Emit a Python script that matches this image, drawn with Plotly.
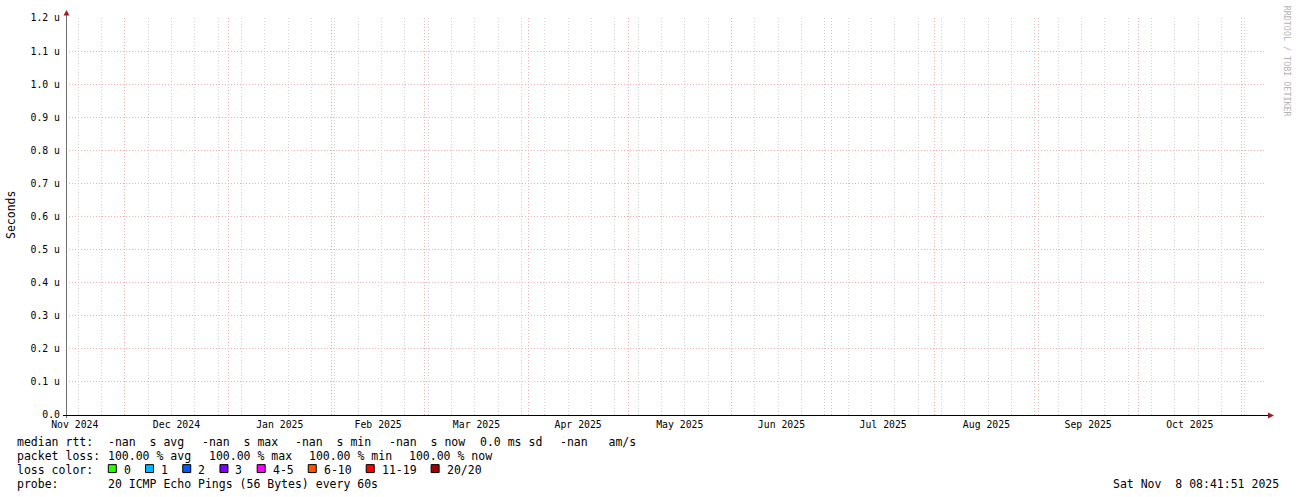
import plotly.graph_objects as go
from datetime import datetime, timedelta

# ---------------- data ----------------
end_time = datetime(2025, 11, 8, 8, 41, 51)
start_time = end_time - timedelta(days=360)

# no samples were collected in the period (all NaN)
rtt_times = []
median_rtt = []

y_tick_vals = [0.0, 0.1, 0.2, 0.3, 0.4, 0.5, 0.6, 0.7, 0.8, 0.9, 1.0, 1.1, 1.2]
y_tick_text = ["0.0", "0.1 u", "0.2 u", "0.3 u", "0.4 u", "0.5 u", "0.6 u",
               "0.7 u", "0.8 u", "0.9 u", "1.0 u", "1.1 u", "1.2 u"]

rtt_stat_values = ["-nan", "-nan", "-nan", "-nan"]
rtt_stat_names = ["avg", "max", "min", "now"]
rtt_sd = "0.0"
rtt_am = "-nan"

loss_values = [100.00, 100.00, 100.00, 100.00]
loss_names = ["avg", "max", "min", "now"]

loss_labels = ["0", "1", "2", "3", "4-5", "6-10", "11-19", "20/20"]
loss_colors = ["#26ff00", "#00b8ff", "#0059ff", "#7e00ff", "#ff00ff",
               "#ff5500", "#ff0000", "#a10000"]

probe_text = "20 ICMP Echo Pings (56 Bytes) every 60s"
stamp_text = "Sat Nov  8 08:41:51 2025"

# ---------------- layout helpers ----------------
W, H = 1297, 497
PL, PR, PT, PB = 66, 1266, 15, 415
MONO = "DejaVu Sans Mono"
LEG = 11.5
CW = 6.92


def px(x):
    return (x - PL) / (PR - PL)


def py(y):
    return (PB - y) / (PB - PT)


def ann(text, x, y, size=LEG, color="#000000", xanchor="left", angle=0):
    return dict(text=text.replace(" ", "\u00a0"), x=px(x), y=py(y),
                xref="paper", yref="paper", xanchor=xanchor, yanchor="middle",
                showarrow=False, textangle=angle, borderpad=0,
                font=dict(family=MONO, size=size, color=color))


fig = go.Figure()
fig.add_trace(go.Scatter(x=rtt_times, y=median_rtt, mode="lines",
                         line=dict(color="#00aa00"), showlegend=False))

RED_GRID = "#eeb0b0"
GRAY_GRID = "#d0d0d0"

fig.update_layout(
    width=W, height=H,
    margin=dict(l=PL, r=W - PR, t=PT, b=H - PB, pad=0),
    paper_bgcolor="white", plot_bgcolor="white",
    showlegend=False,
    xaxis=dict(
        type="date", range=[start_time, end_time],
        dtick="M1", tick0="2024-12-01", tickformat="%b %Y",
        ticklabelmode="period",
        showgrid=True, gridcolor=RED_GRID, griddash="1px,2px", gridwidth=1,
        minor=dict(dtick=7 * 86400000, tick0="2024-11-03", showgrid=True,
                   gridcolor=GRAY_GRID, griddash="1px,2px", gridwidth=1),
        showline=False, zeroline=False, ticks="",
        tickfont=dict(family=MONO, size=9.8, color="#000000"),
        ticklabelstandoff=2,
    ),
    yaxis=dict(
        range=[0, 1.2], tickvals=y_tick_vals, ticktext=y_tick_text,
        showgrid=True, gridcolor=RED_GRID, griddash="1px,2px", gridwidth=1,
        showline=False, zeroline=False, ticks="",
        tickfont=dict(family=MONO, size=9.8, color="#000000"),
        ticklabelstandoff=5,
    ),
)

shapes = []
# axes
shapes.append(dict(type="line", xref="paper", yref="paper",
                   x0=px(66.5), x1=px(66.5), y0=py(418), y1=py(11),
                   line=dict(color="#6e6e6e", width=1)))
shapes.append(dict(type="line", xref="paper", yref="paper",
                   x0=px(63), x1=px(1269), y0=py(415.5), y1=py(415.5),
                   line=dict(color="#000000", width=1)))
# arrows
shapes.append(dict(type="path", xref="paper", yref="paper",
                   path=f"M {px(63.5)},{py(12.5)} L {px(69.5)},{py(12.5)} L {px(66.5)},{py(7)} Z",
                   fillcolor="#9b1c1c", line=dict(color="#9b1c1c", width=0)))
shapes.append(dict(type="path", xref="paper", yref="paper",
                   path=f"M {px(1268)},{py(412.5)} L {px(1268)},{py(418.5)} L {px(1274)},{py(415.5)} Z",
                   fillcolor="#9b1c1c", line=dict(color="#9b1c1c", width=0)))

annotations = []
# y axis title
annotations.append(ann("Seconds", 10.5, 214, xanchor="center", angle=-90))
# watermark
annotations.append(ann("RRDTOOL / TOBI OETIKER", 1287, 59, size=8.4,
                       color="#b4b4b4", xanchor="center", angle=90))

# line 1: median rtt
y1 = 442.5
annotations.append(ann("median rtt:", 16, y1))
rtt_x = [107.3, 201.3, 294.3, 387.7]
for v, n, x in zip(rtt_stat_values, rtt_stat_names, rtt_x):
    annotations.append(ann(f"{v}  s {n}", x, y1))
annotations.append(ann(f"{rtt_sd} ms sd", 479, y1))
annotations.append(ann(f"{rtt_am}   am/s", 559, y1))

# line 2: packet loss
y2 = 456.5
annotations.append(ann("packet loss:", 16, y2))
loss_x = [107.3, 207.6, 307.9, 408.2]
for v, n, x in zip(loss_values, loss_names, loss_x):
    annotations.append(ann(f"{v:.2f} % {n}", x, y2))

# line 3: loss colours
y3 = 470.5
annotations.append(ann("loss color:", 16, y3))
bx = 108.3
for lab, col in zip(loss_labels, loss_colors):
    shapes.append(dict(type="rect", xref="paper", yref="paper",
                       x0=px(bx), x1=px(bx + 8), y0=py(465), y1=py(473),
                       fillcolor=col, line=dict(color="#000000", width=1)))
    annotations.append(ann(lab, bx + 14.5, y3))
    bx += 30.3 + len(lab) * CW

# line 4: probe
y4 = 484.5
annotations.append(ann("probe:", 16, y4))
annotations.append(ann(probe_text, 107.3, y4))
annotations.append(ann(stamp_text, 1280.5, y4, xanchor="right"))

fig.update_layout(shapes=shapes, annotations=annotations)
fig.write_html("out.html",
               config={"displayModeBar": False, "staticPlot": True},
               post_script="document.body.style.margin='0';"
                           "document.body.style.overflow='hidden';")
